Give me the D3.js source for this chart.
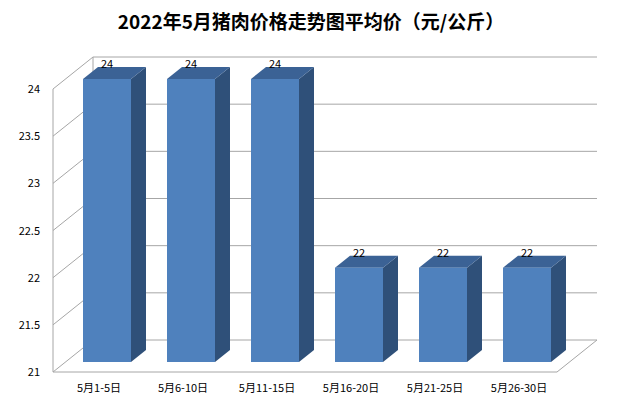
<!DOCTYPE html><html><head><meta charset="utf-8"><script src="https://d3js.org/d3.v7.min.js"></script>
<style>body{margin:0;background:#fff}</style></head><body><svg id="c" width="622" height="407"></svg>
<script>
const categories=["5月1-5日","5月6-10日","5月11-15日","5月16-20日","5月21-25日","5月26-30日"];
const values=[24,24,24,22,22,22];
const yTicks=[21,21.5,22,22.5,23,23.5,24];
const title="2022年5月猪肉价格走势图平均价（元/公斤）";
const svg=d3.select("#c"),font="'Noto Sans CJK SC','Noto Sans',sans-serif";
const L=53,R=557,DX=40,DY=-32;
const x=d3.scaleBand().domain(categories).range([L,R]);
const y=d3.scaleLinear().domain([21,24]).range([372,89]);
svg.append("text").attr("x",311).attr("y",29).attr("text-anchor","middle").attr("font-family",font).attr("font-weight","bold").attr("font-size",19).text(title);
const g="#a6a6a6";
// back wall gridlines and walls
yTicks.forEach(t=>{
 if(t>21) svg.append("line").attr("x1",L+DX).attr("x2",R+DX).attr("y1",y(t)+DY).attr("y2",y(t)+DY).attr("stroke",g);
 svg.append("line").attr("x1",L).attr("y1",y(t)).attr("x2",L+DX).attr("y2",y(t)+DY).attr("stroke",g);
 svg.append("text").attr("x",40).attr("y",y(t)+4).attr("text-anchor","end").attr("font-family",font).attr("font-size",11).text(t);
});
svg.append("line").attr("x1",L).attr("x2",L).attr("y1",y(21)).attr("y2",y(24)).attr("stroke",g);
svg.append("line").attr("x1",L+DX).attr("x2",L+DX).attr("y1",y(21)+DY).attr("y2",y(24)+DY).attr("stroke",g);
svg.append("path").attr("d",`M${L},${y(21)}L${R},${y(21)}L${R+DX},${y(21)+DY}L${L+DX},${y(21)+DY}`).attr("fill","none").attr("stroke",g);
// bars
const fdx=12,fdy=-10,bdx=27,bdy=-22,bw=48;
categories.forEach((c,i)=>{
 const cx=x(c)+x.bandwidth()/2+fdx, x0=cx-bw/2, x1=cx+bw/2, yt=y(values[i])+fdy, yb=y(21)+fdy, ex=bdx-fdx, ey=bdy-fdy;
 svg.append("path").attr("d",`M${x1},${yt}L${x1+ex},${yt+ey}L${x1+ex},${yb+ey}L${x1},${yb}Z`).attr("fill","#2f5079");
 svg.append("path").attr("d",`M${x0},${yt}L${x0+ex},${yt+ey}L${x1+ex},${yt+ey}L${x1},${yt}Z`).attr("fill","#3b6295");
 svg.append("rect").attr("x",x0).attr("y",yt).attr("width",bw).attr("height",yb-yt).attr("fill","#4f81bd");
 svg.append("text").attr("x",cx).attr("y",yt+ey+1).attr("text-anchor","middle").attr("font-family",font).attr("font-size",11).text(values[i]);
 svg.append("text").attr("x",x(c)+x.bandwidth()/2+4).attr("y",392).attr("text-anchor","middle").attr("font-family",font).attr("font-size",11).text(c);
});
</script></body></html>
